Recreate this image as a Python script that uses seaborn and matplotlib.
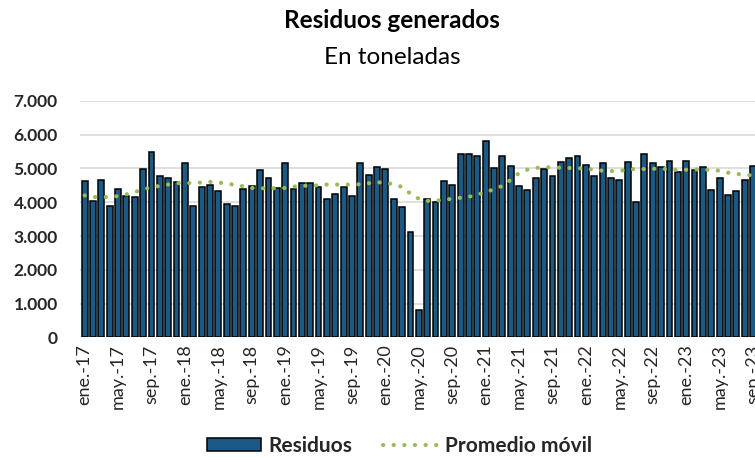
import numpy as np
import pandas as pd
import matplotlib
matplotlib.use("Agg")
import matplotlib.pyplot as plt
from matplotlib.patches import Patch
from matplotlib.lines import Line2D
import seaborn as sns

# Monthly waste generated (tonnes), Jan 2017 - Sep 2023
residuos = [
    4630, 4020, 4670, 3900, 4400, 4170, 4140, 4970, 5470, 4780, 4700, 4590,
    5160, 3900, 4440, 4520, 4320, 3950, 3900, 4400, 4480, 4940, 4700, 4410,
    5160, 4400, 4580, 4580, 4460, 4100, 4250, 4440, 4170, 5160, 4810, 5040,
    4970, 4100, 3870, 3110, 800, 4100, 4010, 4630, 4520, 5430, 5430, 5350,
    5800, 5000, 5350, 5070, 4480, 4360, 4700, 4970, 4780, 5190, 5300, 5350,
    5100, 4780, 5160, 4700, 4670, 5190, 4010, 5430, 5160, 5030, 5230, 4890,
    5230, 4940, 5040, 4360, 4700, 4210, 4320, 4670, 5070,
]

# Moving average series
promedio_movil = [
    4200, 4150, 4150, 4150, 4180, 4230, 4300, 4380, 4440, 4480, 4520, 4560,
    4570, 4560, 4580, 4600, 4580, 4550, 4510, 4470, 4420, 4410, 4410, 4410,
    4420, 4460, 4490, 4480, 4500, 4520, 4520, 4520, 4520, 4530, 4560, 4590,
    4570, 4530, 4450, 4250, 4100, 4040, 4040, 4070, 4100, 4130, 4160, 4220,
    4300, 4380, 4480, 4660, 4860, 4960, 5010, 5030, 5030, 5020, 5010, 5010,
    4980, 4960, 4930, 4920, 4920, 4970, 4980, 4980, 4990, 4980, 4980, 4950,
    4960, 4970, 4960, 4950, 4930, 4870, 4840, 4810, 4790,
]

meses = ["ene", "feb", "mar", "abr", "may", "jun",
         "jul", "ago", "sep", "oct", "nov", "dic"]
etiquetas = [f"{meses[i % 12]}.-{17 + i // 12}" for i in range(len(residuos))]

y_ticks = [0, 1000, 2000, 3000, 4000, 5000, 6000, 7000]

df = pd.DataFrame({
    "idx": np.arange(len(residuos)),
    "mes": etiquetas,
    "Residuos": residuos,
    "Promedio": promedio_movil,
})

sns.set_theme(style="white")
plt.rcParams["font.family"] = ["Lato", "DejaVu Sans"]

bar_color = "#1B5A85"
avg_color = "#9BBB59"
dot_style = (0, (0.05, 2.5))

fig = plt.figure(figsize=(7.55, 4.57), dpi=100)
ax = fig.add_axes([0.106, 0.2615, 0.894, 0.5182])

sns.barplot(data=df, x="idx", y="Residuos", native_scale=True, width=0.7,
            color=bar_color, edgecolor="black", linewidth=1.1,
            saturation=1, ax=ax, zorder=2)
sns.lineplot(data=df, x="idx", y="Promedio", color=avg_color, linewidth=3.0,
             ax=ax, zorder=3)
line = ax.lines[-1]
line.set_linestyle(dot_style)
line.set_dash_capstyle("round")

ax.set_ylim(0, 7000)
ax.set_xlim(-0.55, 80.24)
ax.set_yticks(y_ticks)
ax.set_yticklabels([f"{v:,}".replace(",", ".") for v in y_ticks],
                   fontsize=12.5, fontweight="bold", color="#262626")
tick_pos = list(range(0, len(residuos), 4))
ax.set_xticks(tick_pos)
ax.set_xticklabels([etiquetas[i] for i in tick_pos], rotation=90,
                   fontsize=13, color="#262626")
ax.tick_params(axis="y", length=0, pad=16)
ax.tick_params(axis="x", length=0, pad=5)
ax.set_xlabel("")
ax.set_ylabel("")

ax.yaxis.grid(True, color="#D9D9D9", linewidth=1.2, zorder=0)
ax.set_axisbelow(True)
for s in ax.spines.values():
    s.set_visible(False)

fig.text(0.519, 0.955, "Residuos generados", ha="center", va="center",
         fontsize=17.5, fontweight="bold", color="black")
fig.text(0.519, 0.875, "En toneladas", ha="center", va="center",
         fontsize=17.5, color="black")

handles = [
    Patch(facecolor=bar_color, edgecolor="black", linewidth=1.1, label="Residuos"),
    Line2D([0], [0], color=avg_color, linewidth=3.0,
           linestyle=dot_style, dash_capstyle="round",
           label="Promedio móvil"),
]
leg = fig.legend(handles=handles, loc="center", bbox_to_anchor=(0.529, 0.024),
                 ncol=2, frameon=False, handlelength=2.6, handleheight=0.6,
                 columnspacing=1.5, handletextpad=0.35,
                 prop={"size": 15, "weight": "bold"})

fig.savefig("out.png", dpi=100)
